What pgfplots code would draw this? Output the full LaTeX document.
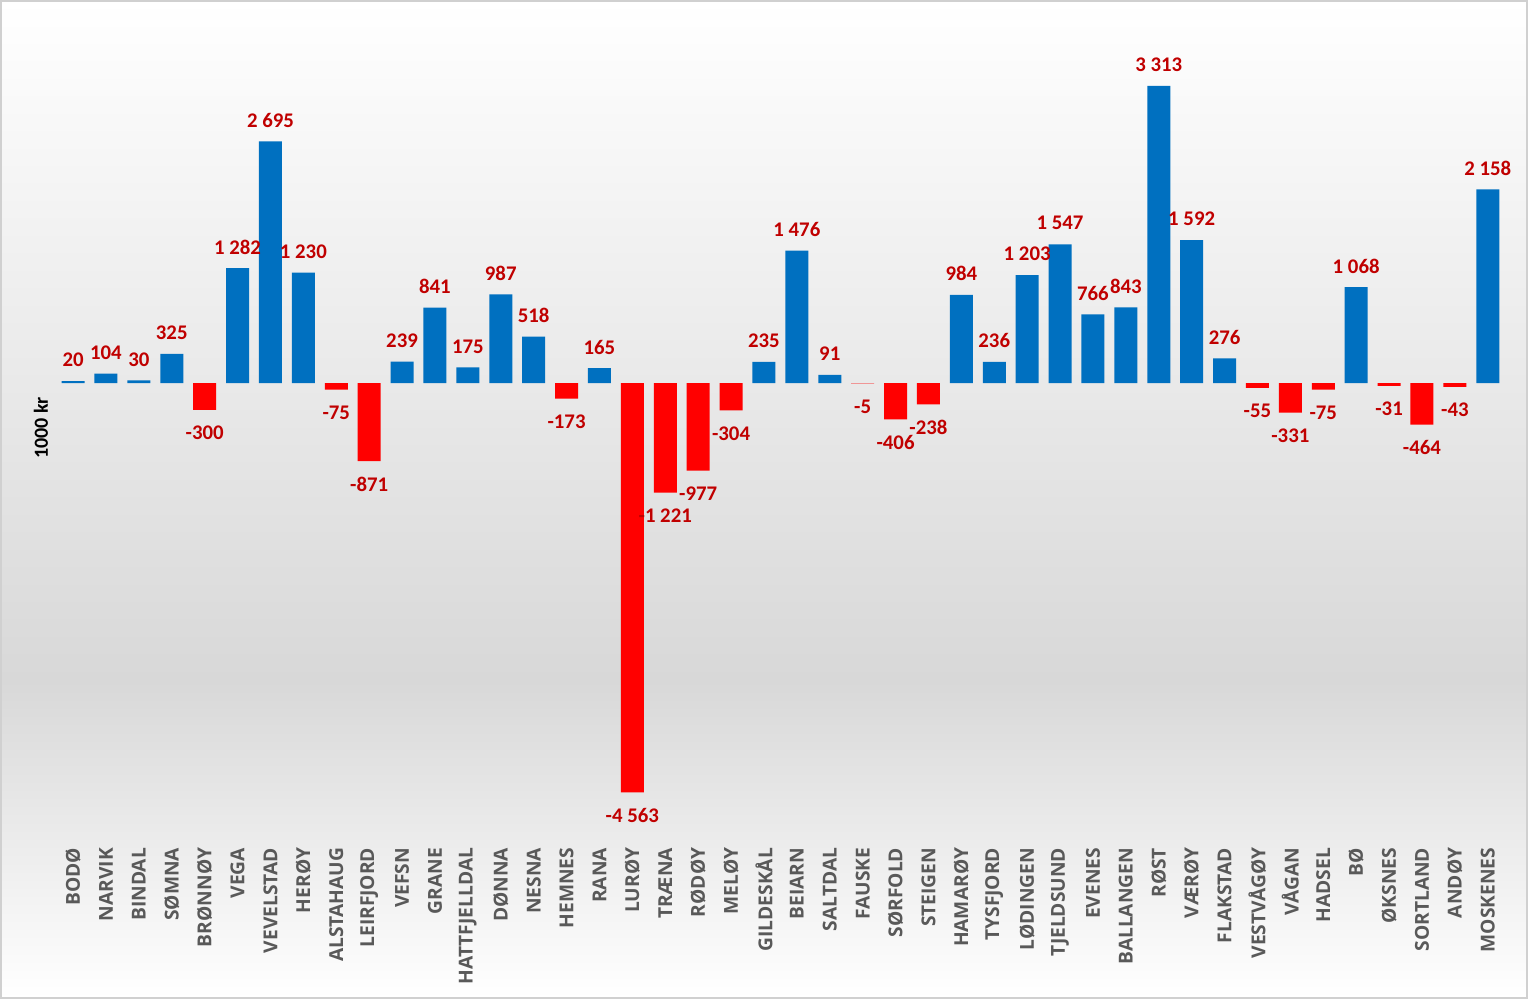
\documentclass[border=0pt]{standalone}
\usepackage{pgfplots}
\pgfplotsset{compat=1.18}
\usepackage{fontspec}
\setmainfont{Carlito}
\newfontfamily\catfont{Open Sans}
\definecolor{barblue}{HTML}{0070C0}
\definecolor{barred}{HTML}{FF0000}
\definecolor{lblred}{HTML}{C00000}
\definecolor{catgrey}{HTML}{595959}
\definecolor{bggrey}{HTML}{D8D8D8}
\definecolor{frame}{HTML}{D0D0D0}
\begin{document}
\begin{tikzpicture}
\path[use as bounding box] (0,0) rectangle (764bp,499.5bp);
\shade[top color=white, bottom color=bggrey] (0,159.5bp) rectangle (764bp,499.5bp);
\shade[top color=bggrey, bottom color=white] (0,0) rectangle (764bp,159.5bp);
\begin{axis}[
  at={(28.3bp,80.5bp)}, anchor=south west,
  scale only axis,
  width=723.8bp, height=399bp,
  xmin=-0.5, xmax=43.5,
  ymin=-5072, ymax=3824,
  axis line style={draw=none},
  tick style={draw=none},
  ytick=\empty,
  xtick={0,...,43},
  xticklabels={BODØ,NARVIK,BINDAL,SØMNA,BRØNNØY,VEGA,VEVELSTAD,HERØY,ALSTAHAUG,LEIRFJORD,VEFSN,GRANE,HATTFJELLDAL,DØNNA,NESNA,HEMNES,RANA,LURØY,TRÆNA,RØDØY,MELØY,GILDESKÅL,BEIARN,SALTDAL,FAUSKE,SØRFOLD,STEIGEN,HAMARØY,TYSFJORD,LØDINGEN,TJELDSUND,EVENES,BALLANGEN,RØST,VÆRØY,FLAKSTAD,VESTVÅGØY,VÅGAN,HADSEL,BØ,ØKSNES,SORTLAND,ANDØY,MOSKENES},
  xticklabel style={rotate=90, anchor=east, inner sep=0.5bp, text=catgrey,
    font=\catfont\bfseries\fontsize{9.6bp}{11bp}\selectfont},
  ybar, bar width=11.5bp,
  nodes near coords={\pgfmathprintnumber[fixed,precision=0,1000 sep={\ },assume math mode=true]{\pgfplotspointmeta}},
  nodes near coords style={text=lblred, font=\bfseries\fontsize{10.4bp}{12bp}\selectfont, inner sep=0pt},
  clip=false,
]
\addplot[ybar, bar shift=0pt, fill=barblue, draw=none,
  every node near coord/.append style={anchor=center, yshift=10.5bp}]
  coordinates {(0,20) (1,104) (2,30) (3,325) (5,1282) (6,2695) (7,1230) (10,239) (11,841) (12,175) (13,987) (14,518) (16,165) (21,235) (22,1476) (23,91) (27,984) (28,236) (29,1203) (30,1547) (31,766) (32,843) (33,3313) (34,1592) (35,276) (39,1068) (43,2158)};
\addplot[ybar, bar shift=0pt, fill=barred, draw=none,
  every node near coord/.append style={anchor=center, yshift=-11.5bp}]
  coordinates {(4,-300) (8,-75) (9,-871) (15,-173) (17,-4563) (18,-1221) (19,-977) (20,-304) (24,-5) (25,-406) (26,-238) (36,-55) (37,-331) (38,-75) (40,-31) (41,-464) (42,-43)};
\end{axis}
\node[rotate=90, font=\bfseries\fontsize{10bp}{12bp}\selectfont, inner sep=0pt] at (20.5bp,285.5bp) {1000 kr};
\draw[frame, line width=1bp] (0.5bp,0.5bp) rectangle (763.5bp,499bp);
\end{tikzpicture}
\end{document}
